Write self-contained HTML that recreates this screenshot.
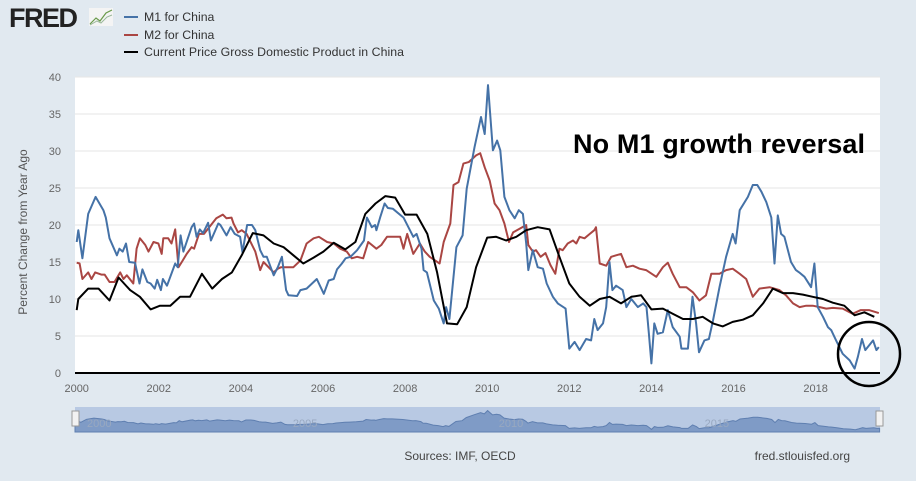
<!DOCTYPE html>
<html><head><meta charset="utf-8"><style>
html,body{margin:0;padding:0;background:#e1e9f0;width:916px;height:481px;overflow:hidden;font-family:"Liberation Sans",sans-serif}
</style></head><body>
<svg id="chart" width="916" height="481" xmlns="http://www.w3.org/2000/svg">
<rect x="0" y="0" width="916" height="481" fill="#e1e9f0"/>
<g>
<text x="9" y="27" font-size="27" font-weight="bold" fill="#222" font-family="Liberation Sans,sans-serif" letter-spacing="-1.5">FRED</text>
<rect x="89" y="8" width="24" height="18" fill="#f4f4f4"/>
<polyline points="90,24 96,18 100,21 106,13 112,10" fill="none" stroke="#6a9a4a" stroke-width="1.2"/>
<polyline points="90,25 97,21 101,23 107,17 112,15" fill="none" stroke="#9ab89a" stroke-width="1"/>
</g>
<g font-size="12.3" fill="#333">
<g><line x1="124" y1="17" x2="138" y2="17" stroke="#4572a7" stroke-width="2"/><text x="144" y="21">M1 for China</text></g>
<g><line x1="124" y1="35" x2="138" y2="35" stroke="#aa4643" stroke-width="2"/><text x="144" y="39">M2 for China</text></g>
<g><line x1="124" y1="52" x2="138" y2="52" stroke="#000" stroke-width="2"/><text x="144" y="56" textLength="260">Current Price Gross Domestic Product in China</text></g>
</g>
<rect x="75" y="77" width="805" height="296" fill="#fff"/>
<g id="grid"></g>
<g id="yticks" font-size="11" fill="#666" text-anchor="end"></g>
<text transform="translate(27,232) rotate(-90)" text-anchor="middle" font-size="12" fill="#555">Percent Change from Year Ago</text>
<g id="xticks" font-size="11" fill="#666" text-anchor="middle"></g>
<g id="series"></g>
<line x1="75" y1="373" x2="880" y2="373" stroke="#000" stroke-width="2"/>
<text x="573" y="153" font-size="27" font-weight="bold" fill="#000" textLength="292">No M1 growth reversal</text>
<ellipse cx="869" cy="354" rx="31" ry="32" fill="none" stroke="#000" stroke-width="2.5"/>
<g id="nav">
<rect x="75" y="407" width="805" height="25" fill="#b8c9e3"/>
</g>
<text x="460" y="460" text-anchor="middle" font-size="12" fill="#444">Sources: IMF, OECD</text>
<text x="850" y="460" text-anchor="end" font-size="12" fill="#444">fred.stlouisfed.org</text>
</svg>
<script>
const yTicks=[0,5,10,15,20,25,30,35,40];
const xTicks=[2000,2002,2004,2006,2008,2010,2012,2014,2016,2018];
const m1Years=[2000.0,2000.04,2000.14,2000.28,2000.46,2000.65,2000.71,2000.8,2000.98,2001.04,2001.12,2001.2,2001.28,2001.42,2001.53,2001.6,2001.72,2001.8,2001.9,2001.96,2002.05,2002.1,2002.2,2002.4,2002.46,2002.53,2002.6,2002.8,2002.86,2002.92,2003.0,2003.08,2003.2,2003.27,2003.45,2003.5,2003.65,2003.75,2003.85,2003.98,2004.04,2004.15,2004.27,2004.35,2004.47,2004.55,2004.63,2004.8,2004.9,2005.0,2005.1,2005.16,2005.37,2005.45,2005.6,2005.85,2006.02,2006.14,2006.26,2006.34,2006.46,2006.55,2006.67,2006.83,2007.0,2007.07,2007.19,2007.27,2007.3,2007.39,2007.5,2007.58,2007.7,2007.96,2008.08,2008.2,2008.28,2008.4,2008.45,2008.53,2008.7,2008.82,2008.94,2009.0,2009.08,2009.25,2009.4,2009.5,2009.69,2009.85,2009.94,2010.02,2010.14,2010.24,2010.32,2010.42,2010.54,2010.67,2010.77,2010.87,2010.95,2011.0,2011.11,2011.23,2011.36,2011.45,2011.6,2011.72,2011.91,2012.0,2012.13,2012.25,2012.41,2012.53,2012.61,2012.69,2012.82,2012.9,2012.98,2013.05,2013.14,2013.3,2013.39,2013.51,2013.67,2013.8,2013.88,2013.94,2014.0,2014.07,2014.15,2014.28,2014.4,2014.52,2014.69,2014.73,2014.89,2015.0,2015.09,2015.16,2015.29,2015.4,2015.5,2015.66,2015.82,2015.98,2016.05,2016.15,2016.35,2016.47,2016.58,2016.68,2016.8,2016.92,2017.0,2017.08,2017.16,2017.24,2017.4,2017.52,2017.6,2017.73,2017.89,2017.97,2018.05,2018.18,2018.3,2018.38,2018.5,2018.66,2018.83,2018.95,2019.03,2019.13,2019.21,2019.4,2019.48,2019.54];
const m1Values=[17.7,19.3,15.5,21.5,23.8,22,21,18.2,15.9,16.8,16.4,17.5,15,14.9,12.1,14,12.3,12.1,11.4,12.6,11.2,12.7,11.8,14.8,14.3,18.6,16.4,19.7,20.2,18.4,19.4,18.9,20.3,17.9,20.2,20,18.6,19.7,18.8,18.4,16.3,20,20,19.3,16.6,15.7,15.7,13.2,14.3,15.7,11.2,10.5,10.4,11.2,11.4,12.7,10.7,12.5,12.7,14,14.8,15.5,15.7,16.6,17.9,21,19.7,20,19.3,21,22.9,22.3,22.2,21,19.7,18.4,18.8,16.8,13.9,13.6,9.8,8.7,6.7,8.9,7.3,17,18.6,24.9,30.5,34.6,32.3,38.9,30.1,31.4,30.1,23.8,22,20.9,22,21.5,17.5,13.9,16.6,14.3,14.1,12.1,10.3,9.4,8.7,3.3,4.2,3.1,4.6,4.4,7.3,5.8,6.7,8.9,15,11.2,11.8,11.2,8.9,10,8.9,9.4,8.9,5.3,1.3,6.7,5.3,5.5,8.5,6.2,4.9,3.3,3.3,10.3,6.7,2.8,4.4,4.6,7.1,11.6,15.7,18.8,17.5,22,23.8,25.4,25.4,24.5,23.1,21,14.8,21.3,18.8,18.4,15,13.9,13.6,13,11.6,14.8,8.9,7.6,6.2,5.8,4.4,2.6,1.7,0.6,2.2,4.6,3.1,4.4,3.1,3.5];
const m2Years=[2000.0,2000.07,2000.14,2000.28,2000.36,2000.45,2000.6,2000.68,2000.8,2000.92,2001.06,2001.14,2001.22,2001.38,2001.46,2001.54,2001.67,2001.75,2001.87,2001.99,2002.07,2002.11,2002.23,2002.31,2002.4,2002.48,2002.56,2002.68,2002.8,2002.86,2002.98,2003.1,2003.4,2003.56,2003.65,2003.77,2003.82,2003.93,2004.02,2004.14,2004.35,2004.47,2004.55,2004.8,2004.9,2004.98,2005.14,2005.28,2005.45,2005.6,2005.77,2005.9,2006.1,2006.26,2006.42,2006.58,2006.7,2006.83,2006.98,2007.1,2007.3,2007.42,2007.56,2007.72,2007.88,2007.96,2008.05,2008.2,2008.36,2008.48,2008.6,2008.84,2008.94,2009.1,2009.18,2009.3,2009.42,2009.55,2009.73,2009.83,2009.94,2010.06,2010.18,2010.3,2010.42,2010.53,2010.63,2010.79,2010.95,2011.0,2011.11,2011.19,2011.3,2011.42,2011.54,2011.66,2011.76,2011.84,2011.96,2012.09,2012.17,2012.25,2012.37,2012.5,2012.61,2012.65,2012.74,2012.9,2013.02,2013.14,2013.26,2013.39,2013.55,2013.71,2013.87,2014.12,2014.28,2014.4,2014.52,2014.69,2014.85,2015.01,2015.17,2015.33,2015.46,2015.66,2015.82,2015.98,2016.15,2016.31,2016.47,2016.63,2016.88,2017.12,2017.28,2017.45,2017.61,2017.77,2017.93,2018.1,2018.26,2018.42,2018.66,2018.9,2019.1,2019.3,2019.54];
const m2Values=[14.9,14.8,12.7,13.6,12.7,13.6,13.3,13.3,12.3,12.3,13.6,12.7,13.2,12.1,16.8,18.2,17.3,16.4,17.7,17.5,16.1,18.2,18.2,17.5,19.4,14.3,15,16.1,17,16.8,18.8,18.8,20.9,21.4,20.9,21,20.2,19,19.3,18.8,16.4,13.9,15,13.6,14.1,14.3,14.3,14.3,15.2,17.5,18.2,18.4,17.7,17.5,16.8,16.4,15.5,15.7,15.5,17.7,16.8,17.3,18.4,18.4,18.4,16.8,18.8,16.1,17.5,16.4,15.7,14.8,17.7,20.2,25.4,25.8,28.3,28.5,29.4,29.7,27.8,26,22.9,22,20.2,17.7,19,19.5,20,17.3,16.4,16.6,15.7,16.2,14.6,13.4,16.8,16.6,17.5,17.9,17.5,18.4,18.2,18.8,19.3,19.7,14.8,14.5,15.7,15.9,16.1,14.3,14.5,14.1,13.9,13,14.3,14.9,13.4,11.6,11.6,10.9,9.8,10.5,13.4,13.4,13.9,14.1,13.4,12.7,10.3,11.4,11.6,11.2,10.5,9.4,8.9,9.1,9.1,8.9,8.7,8.8,8.7,8,8.5,8.5,8.1];
const gdpYears=[2000.0,2000.04,2000.28,2000.53,2000.8,2001.02,2001.3,2001.54,2001.8,2002.03,2002.28,2002.52,2002.76,2003.05,2003.3,2003.54,2003.78,2004.02,2004.29,2004.55,2004.8,2005.04,2005.28,2005.52,2005.77,2006.01,2006.26,2006.54,2006.79,2007.03,2007.28,2007.52,2007.76,2008.0,2008.28,2008.54,2008.78,2009.02,2009.27,2009.5,2009.73,2010.0,2010.22,2010.46,2010.71,2010.95,2011.23,2011.52,2011.76,2012.0,2012.25,2012.5,2012.74,2012.98,2013.26,2013.51,2013.75,2014.0,2014.28,2014.52,2014.77,2015.01,2015.25,2015.5,2015.74,2015.98,2016.23,2016.47,2016.72,2016.96,2017.2,2017.45,2017.69,2017.93,2018.18,2018.42,2018.7,2018.95,2019.19,2019.43];
const gdpValues=[8.5,10,11.4,11.4,9.8,12.9,11.2,10.3,8.6,9.1,9.1,10.3,10.3,13.4,11.4,12.7,13.6,15.9,18.9,18.6,17.5,17,15.9,14.8,15.6,16.4,17.6,16.7,17.7,21.5,22.9,23.9,23.7,21.4,21.4,18.8,13.6,6.7,6.6,8.9,14.3,18.3,18.4,17.9,18.4,19.3,19.7,19.4,15.7,12.1,10.3,9.1,10,10.3,9.4,10.3,10.5,8.6,8.7,8,7.3,7.3,7.6,6.7,6.3,6.9,7.2,7.8,9.4,11.4,10.8,10.8,10.6,10.3,10,9.5,9.1,7.8,8.2,7.6];

const NS='http://www.w3.org/2000/svg';
const X0=75,X1=880,Y0=373,YT=77;
function xs(yr){return 76.7+(yr-2000)*41.05;}
function ys(v){return Y0-(v/40)*(Y0-YT);}
function mk(tag,attrs,parent){const e=document.createElementNS(NS,tag);for(const k in attrs)e.setAttribute(k,attrs[k]);parent.appendChild(e);return e;}
const grid=document.getElementById('grid'),yt=document.getElementById('yticks'),xt=document.getElementById('xticks'),ser=document.getElementById('series'),nav=document.getElementById('nav');
yTicks.forEach(v=>{
  if(v>0){const l=mk('line',{x1:X0,x2:X1,y1:ys(v),y2:ys(v),stroke:'#e6e6e6','stroke-width':1},grid);
  
  }
  const t=mk('text',{x:61,y:ys(v)+4},yt);t.textContent=v;
  
  
});
xTicks.forEach(v=>{
  const t=mk('text',{x:xs(v),y:392},xt);t.textContent=v;
  
  
});
function line(years,vals,color,w,name){
  const pts=years.map((y,i)=>xs(y).toFixed(1)+','+ys(vals[i]).toFixed(1)).join(' ');
  const p=mk('polyline',{points:pts,fill:'none',stroke:color,'stroke-width':w,'stroke-linejoin':'round'},ser);
  
  
}
line(m2Years,m2Values,'#aa4643',2,'m2-line');
line(m1Years,m1Values,'#4572a7',2,'m1-line');
line(gdpYears,gdpValues,'#000',2,'gdp-line');
function nx(yr){return X0+(yr-2000)*(X1-X0)/19.55;}
function ny(v){return 430-v*0.5;}
let d='M'+nx(m1Years[0])+',432 '+m1Years.map((y,i)=>'L'+nx(y).toFixed(1)+','+ny(m1Values[i]).toFixed(1)).join(' ')+' L'+nx(m1Years[m1Years.length-1])+',432 Z';
const a=mk('path',{d:d,fill:'#7f9bc6',stroke:'#5f7fb0','stroke-width':1},nav);


[[2000,'2000'],[2005,'2005'],[2010,'2010'],[2015,'2015']].forEach(p=>{
  const t=mk('text',{x:nx(p[0])+12,y:427,'font-size':11,fill:'#98a8c0'},nav);t.textContent=p[1];
  
  
});
[[72],[876]].forEach((p,i)=>{
  const h=mk('rect',{x:p[0],y:411,width:7,height:15,fill:'#f2f2f2',stroke:'#999'},nav);
  
  
});
</script>
</body></html>
